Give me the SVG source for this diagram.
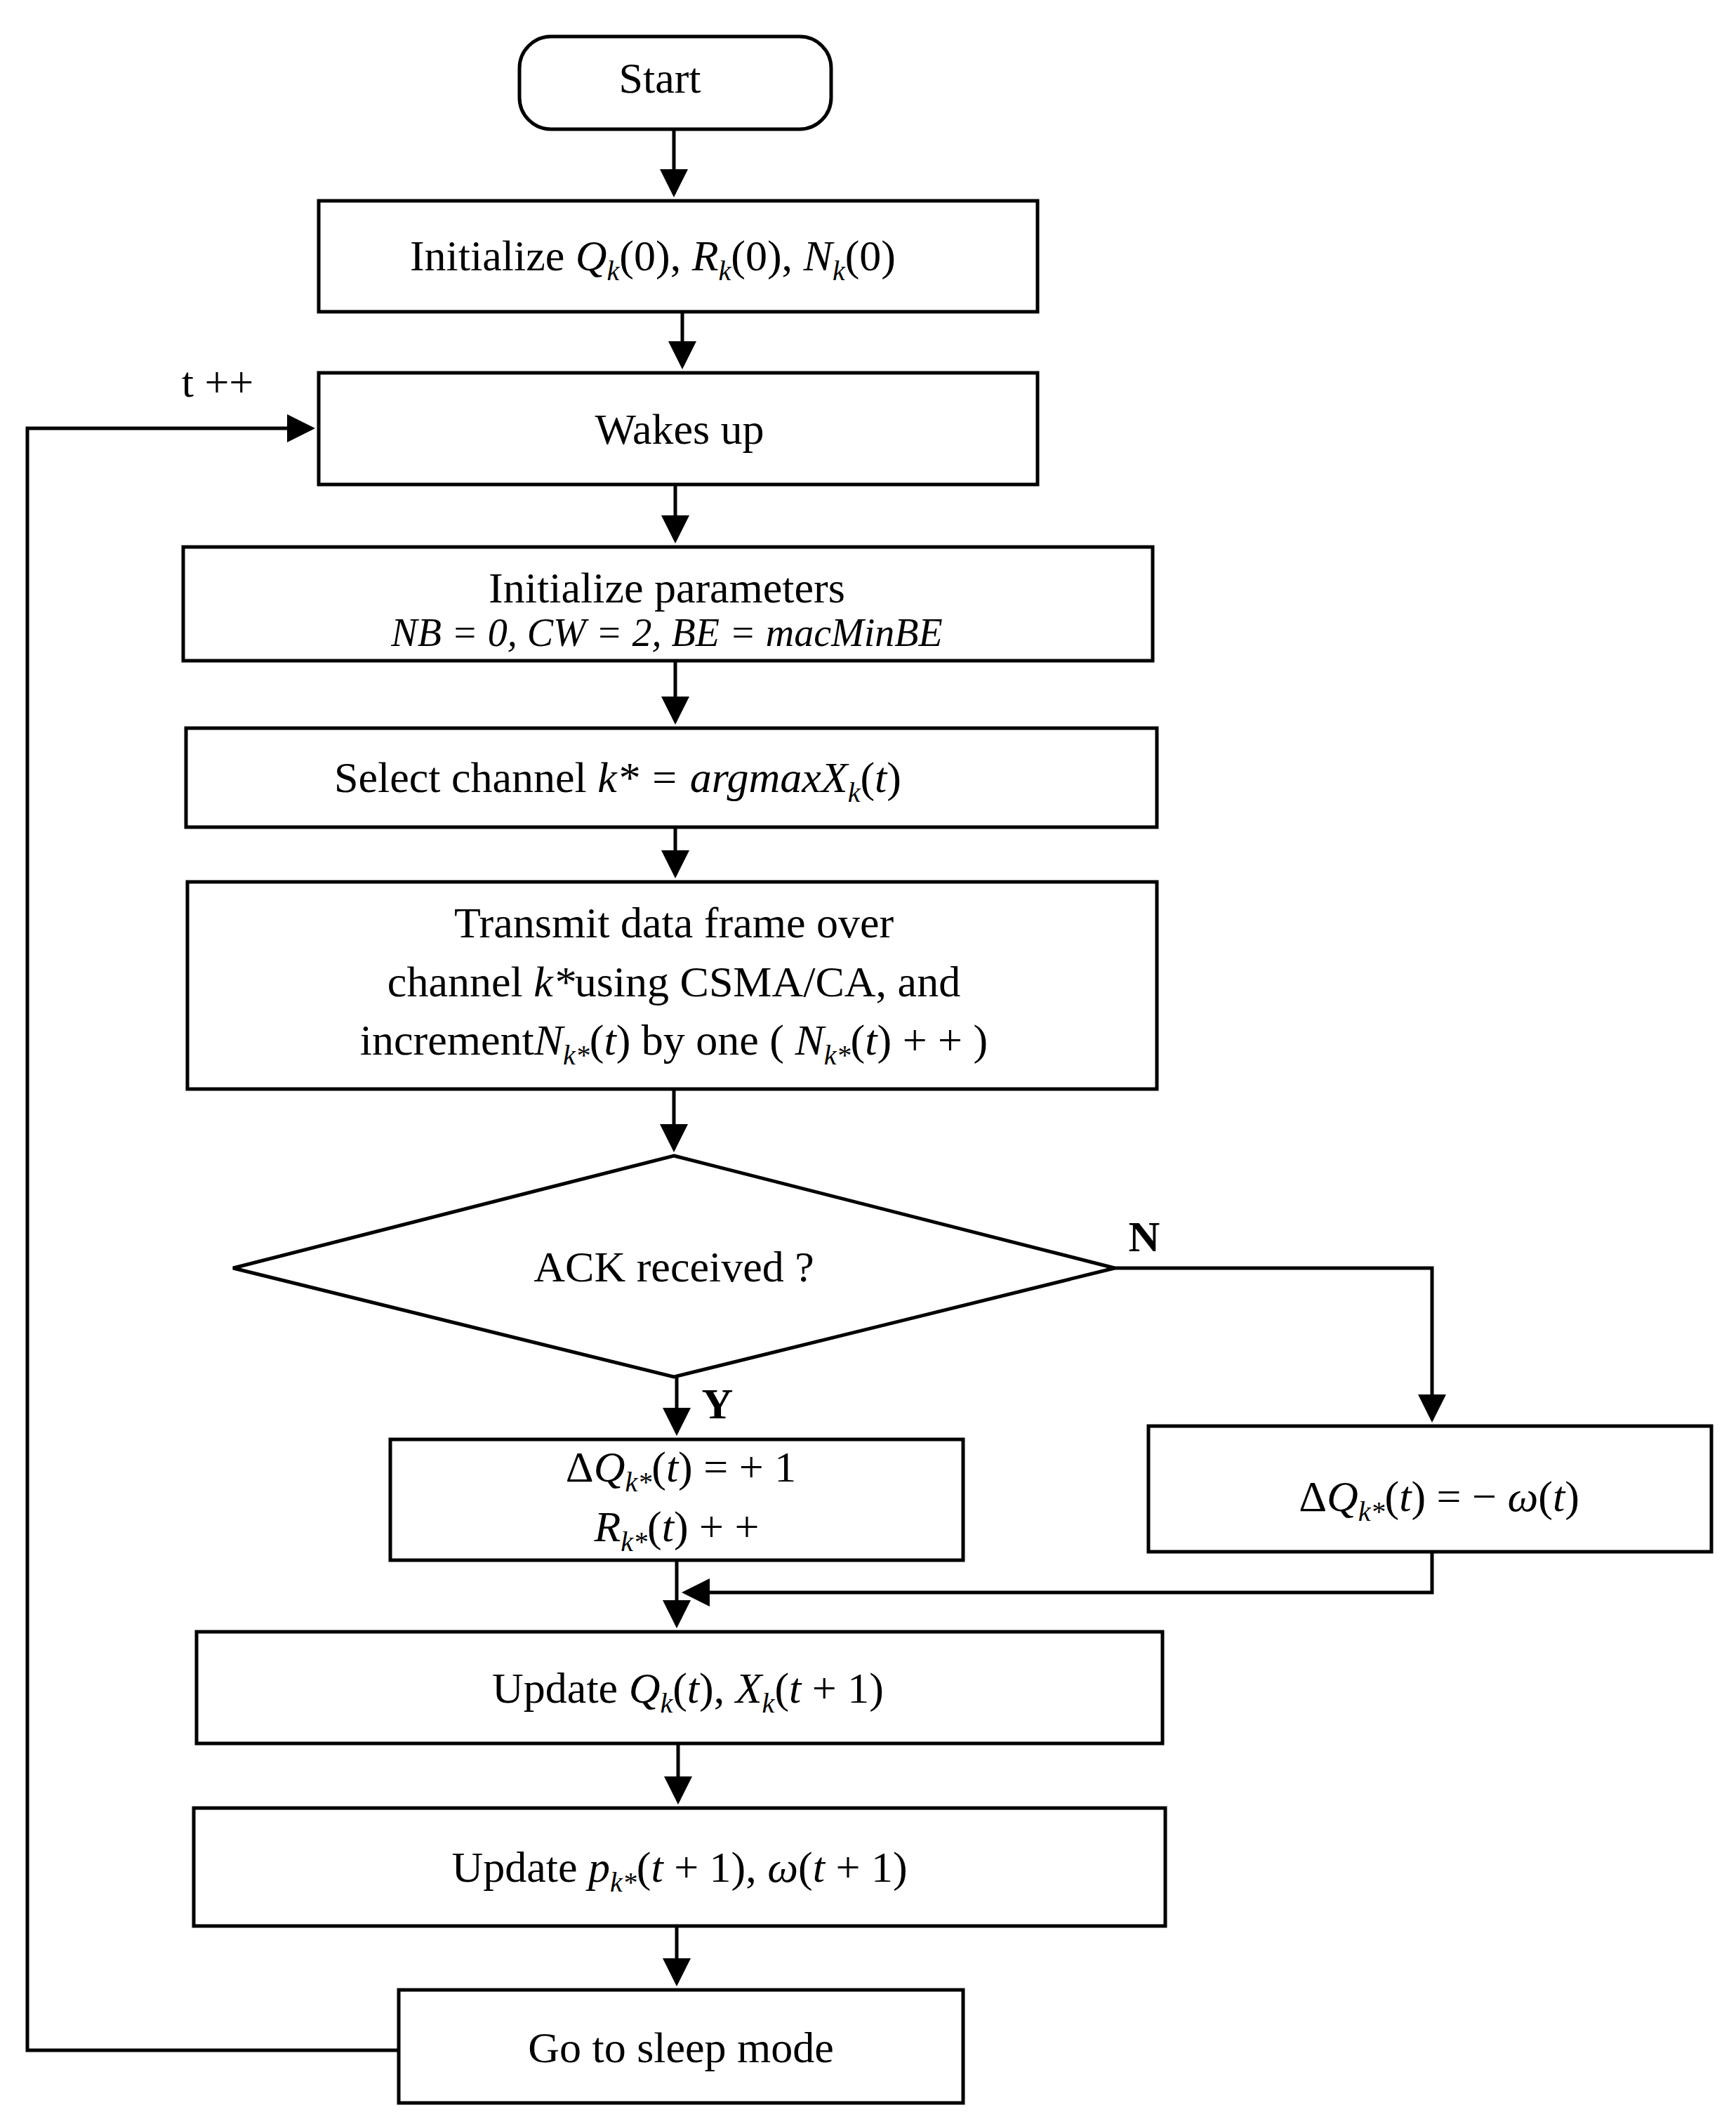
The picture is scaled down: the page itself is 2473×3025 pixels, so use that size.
<svg xmlns="http://www.w3.org/2000/svg" width="2473" height="3025" viewBox="0 0 2473 3025">
<style>
.b{fill:#fff;stroke:#000;stroke-width:5}
.t{font-family:"Liberation Serif",serif;font-size:62px;fill:#000;text-anchor:middle}
.i{font-style:italic}
.s{font-size:40px}
.c{fill:none;stroke:#000;stroke-width:5}
</style>
<defs><marker id="a" markerWidth="8" markerHeight="8" refX="7" refY="4" orient="auto" markerUnits="strokeWidth"><path d="M0,0L8,4L0,8z"/></marker></defs>
<rect width="2473" height="3025" fill="#fff"/>
<g id="connectors">
<path class="c" d="M960 184V276" marker-end="url(#a)"/>
<path class="c" d="M972 444V521" marker-end="url(#a)"/>
<path class="c" d="M962 690V769" marker-end="url(#a)"/>
<path class="c" d="M962 941V1027" marker-end="url(#a)"/>
<path class="c" d="M962 1178V1246" marker-end="url(#a)"/>
<path class="c" d="M960 1551V1636" marker-end="url(#a)"/>
<path class="c" d="M964 1961V2040" marker-end="url(#a)"/>
<path class="c" d="M1588 1806H2040V2021" marker-end="url(#a)"/>
<path class="c" d="M2040 2210V2268H976" marker-end="url(#a)"/>
<path class="c" d="M964 2222V2314" marker-end="url(#a)"/>
<path class="c" d="M966 2483V2565" marker-end="url(#a)"/>
<path class="c" d="M964 2743V2824" marker-end="url(#a)"/>
<path class="c" d="M568 2920H39V610H444" marker-end="url(#a)"/>
</g>
<text class="t" x="310" y="565">t ++</text>
<text class="t" x="1630" y="1782" style="font-weight:bold">N</text>
<text class="t" x="1022" y="2020" style="font-weight:bold">Y</text>
<g id="start"><rect class="b" x="740" y="52" width="444" height="132" rx="45"/><text class="t" x="940" y="132">Start</text></g>
<g id="init"><rect class="b" x="454" y="286" width="1024" height="158"/><text class="t" x="930" y="385">Initialize <tspan class="i">Q</tspan><tspan class="i s" dy="14">k</tspan><tspan dy="-14">(0), </tspan><tspan class="i">R</tspan><tspan class="i s" dy="14">k</tspan><tspan dy="-14">(0), </tspan><tspan class="i">N</tspan><tspan class="i s" dy="14">k</tspan><tspan dy="-14">(0)</tspan></text></g>
<g id="wake"><rect class="b" x="454" y="531" width="1024" height="159"/><text class="t" x="968" y="632">Wakes up</text></g>
<g id="params"><rect class="b" x="261" y="779" width="1381" height="162"/><text class="t" x="950" y="858">Initialize parameters</text><text class="t i" x="950" y="920" style="font-size:56px">NB = 0, CW = 2, BE = macMinBE</text></g>
<g id="select"><rect class="b" x="265" y="1037" width="1383" height="141"/><text class="t" x="880" y="1128">Select channel   <tspan class="i">k* = argmaxX</tspan><tspan class="i s" dy="14">k</tspan><tspan dy="-14">(</tspan><tspan class="i">t</tspan>)</text></g>
<g id="transmit"><rect class="b" x="267" y="1256" width="1381" height="295"/><text class="t" x="960" y="1335">Transmit data frame over</text><text class="t" x="960" y="1419">channel  <tspan class="i">k*</tspan>using CSMA/CA, and</text><text class="t" x="960" y="1502">increment<tspan class="i">N</tspan><tspan class="i s" dy="14">k*</tspan><tspan dy="-14">(</tspan><tspan class="i">t</tspan>)  by one ( <tspan class="i">N</tspan><tspan class="i s" dy="14">k*</tspan><tspan dy="-14">(</tspan><tspan class="i">t</tspan>) + +  )</text></g>
<g id="ack"><path class="b" d="M960 1646L1588 1806L960 1961L332 1806Z"/><text class="t" x="960" y="1825">ACK received ?</text></g>
<g id="yes"><rect class="b" x="556" y="2050" width="816" height="172"/><text class="t" x="970" y="2110">Δ<tspan class="i">Q</tspan><tspan class="i s" dy="14">k*</tspan><tspan dy="-14">(</tspan><tspan class="i">t</tspan>) = + 1</text><text class="t" x="964" y="2195"><tspan class="i">R</tspan><tspan class="i s" dy="14">k*</tspan><tspan dy="-14">(</tspan><tspan class="i">t</tspan>) + +</text></g>
<g id="no"><rect class="b" x="1636" y="2031" width="802" height="179"/><text class="t" x="2050" y="2152">Δ<tspan class="i">Q</tspan><tspan class="i s" dy="14">k*</tspan><tspan dy="-14">(</tspan><tspan class="i">t</tspan>) = − <tspan class="i">ω</tspan>(<tspan class="i">t</tspan>)</text></g>
<g id="updq"><rect class="b" x="280" y="2324" width="1376" height="159"/><text class="t" x="980" y="2425">Update   <tspan class="i">Q</tspan><tspan class="i s" dy="14">k</tspan><tspan dy="-14">(</tspan><tspan class="i">t</tspan>), <tspan class="i">X</tspan><tspan class="i s" dy="14">k</tspan><tspan dy="-14">(</tspan><tspan class="i">t</tspan> + 1)</text></g>
<g id="updp"><rect class="b" x="276" y="2575" width="1384" height="168"/><text class="t" x="968" y="2680">Update <tspan class="i">p</tspan><tspan class="i s" dy="14">k*</tspan><tspan dy="-14">(</tspan><tspan class="i">t</tspan> + 1), <tspan class="i">ω</tspan>(<tspan class="i">t</tspan> + 1)</text></g>
<g id="sleep"><rect class="b" x="568" y="2834" width="804" height="161"/><text class="t" x="970" y="2937">Go to sleep mode</text></g>
</svg>
